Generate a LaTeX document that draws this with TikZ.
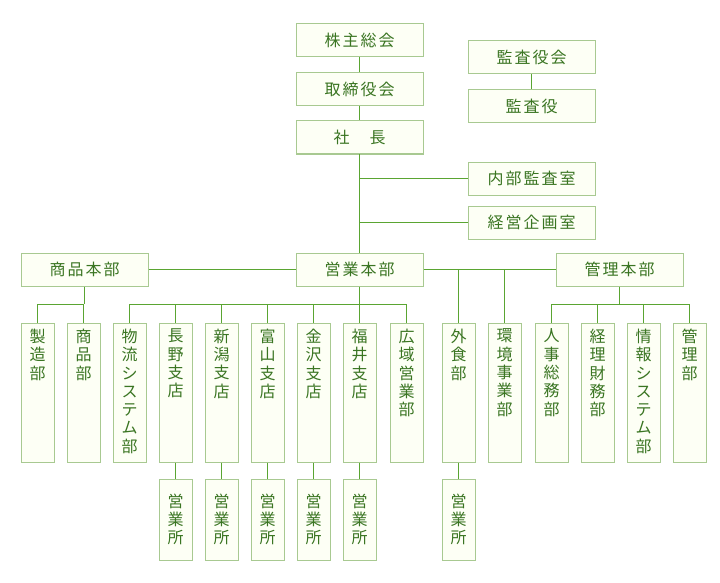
\documentclass[tikz,border=0pt]{standalone}
\usepackage{fontspec}
\setmainfont{Noto Sans CJK JP}
\definecolor{ln}{HTML}{5AA532}
\definecolor{bd}{HTML}{A8C991}
\definecolor{bf}{HTML}{FDFFF5}
\definecolor{tx}{HTML}{3A7522}
\makeatletter
\newcommand\sptext[1]{\@tfor\sp@ch:=#1\do{\sp@ch\kern2pt}\kern-2pt}
\makeatother
\newcommand\vcol[1]{\parbox[c][139pt][t]{33pt}{\centering\fontsize{16}{18.3}\selectfont\vspace*{6pt}#1\par}}
\newcommand\vshort[1]{\parbox[c][81pt][c]{33pt}{\centering\fontsize{16}{18.3}\selectfont #1\par}}
\tikzset{
  hbox/.style={draw=bd, fill=bf, line width=1pt, minimum width=127pt, minimum height=33pt, inner sep=0pt, text=tx, font=\fontsize{16}{18}\selectfont},
  vbox/.style={draw=bd, fill=bf, line width=1pt, minimum width=33pt, minimum height=139pt, inner sep=0pt, text=tx},
  sbox/.style={draw=bd, fill=bf, line width=1pt, minimum width=33pt, minimum height=81pt, inner sep=0pt, text=tx},
  conn/.style={draw=ln, line width=1pt}
}
\begin{document}
\begin{tikzpicture}[x=1pt,y=-1pt]
\fill[white] (0,0) rectangle (720,583);
\useasboundingbox (0,0) rectangle (720,583);
\coordinate (bus) at (0,304);
% top boxes
\node[hbox] (kabu) at (359.5,40.5) {\sptext{株主総会}};
\node[hbox] (tori) at (359.5,89.5) {\sptext{取締役会}};
\node[hbox] (sha) at (359.5,137.5) {\sptext{社　長}};
\node[hbox] (kansakai) at (531.5,57.5) {\sptext{監査役会}};
\node[hbox] (kansa) at (531.5,106.5) {\sptext{監査役}};
\node[hbox] (naibu) at (531.5,178.5) {\sptext{内部監査室}};
\node[hbox] (keiei) at (531.5,222.5) {\sptext{経営企画室}};
\node[hbox] (shohin) at (84.5,269.5) {\sptext{商品本部}};
\node[hbox] (eigyo) at (359.5,269.5) {\sptext{営業本部}};
\node[hbox] (kanri) at (619.5,269.5) {\sptext{管理本部}};
% columns
\node[vbox] (seizo) at (37.5,392.5) {\vcol{製\\造\\部}};
\node[vbox] (shohinbu) at (83.5,392.5) {\vcol{商\\品\\部}};
\node[vbox] (butsu) at (129.5,392.5) {\vcol{物\\流\\シ\\ス\\テ\\ム\\部}};
\node[vbox] (nagano) at (175.5,392.5) {\vcol{長\\野\\支\\店}};
\node[vbox] (niigata) at (221.5,392.5) {\vcol{新\\潟\\支\\店}};
\node[vbox] (toyama) at (267.5,392.5) {\vcol{富\\山\\支\\店}};
\node[vbox] (kanazawa) at (313.5,392.5) {\vcol{金\\沢\\支\\店}};
\node[vbox] (fukui) at (359.5,392.5) {\vcol{福\\井\\支\\店}};
\node[vbox] (kouiki) at (406.5,392.5) {\vcol{広\\域\\営\\業\\部}};
\node[vbox] (gaishoku) at (458.5,392.5) {\vcol{外\\食\\部}};
\node[vbox] (kankyo) at (504.5,392.5) {\vcol{環\\境\\事\\業\\部}};
\node[vbox] (jinji) at (551.5,392.5) {\vcol{人\\事\\総\\務\\部}};
\node[vbox] (keiri) at (597.5,392.5) {\vcol{経\\理\\財\\務\\部}};
\node[vbox] (joho) at (643.5,392.5) {\vcol{情\\報\\シ\\ス\\テ\\ム\\部}};
\node[vbox] (kanribu) at (689.5,392.5) {\vcol{管\\理\\部}};
% sales offices
\node[sbox] (e1) at (175.5,519.5) {\vshort{営\\業\\所}};
\node[sbox] (e2) at (221.5,519.5) {\vshort{営\\業\\所}};
\node[sbox] (e3) at (267.5,519.5) {\vshort{営\\業\\所}};
\node[sbox] (e4) at (313.5,519.5) {\vshort{営\\業\\所}};
\node[sbox] (e5) at (359.5,519.5) {\vshort{営\\業\\所}};
\node[sbox] (e6) at (458.5,519.5) {\vshort{営\\業\\所}};
% connectors
\draw[conn] (kabu) -- (tori);
\draw[conn] (tori) -- (sha);
\draw[conn] (sha) -- (eigyo);
\draw[conn] (kansakai) -- (kansa);
\draw[conn] (naibu.west) -- (naibu.west -| sha);
\draw[conn] (keiei.west) -- (keiei.west -| sha);
\draw[conn] (shohin) -- (eigyo);
\draw[conn] (eigyo) -- (kanri);
\draw[conn] (gaishoku.north) -- (gaishoku.north |- eigyo);
\draw[conn] (kankyo.north) -- (kankyo.north |- eigyo);
\draw[conn] (shohin.south) -- (shohin.south |- bus);
\draw[conn] (seizo.north) |- (bus -| shohinbu) -- (shohinbu.north);
\draw[conn] (eigyo.south) -- (fukui.north);
\draw[conn] (butsu.north) |- (bus -| kouiki) -- (kouiki.north);
\draw[conn] (nagano.north) -- (nagano.north |- bus);
\draw[conn] (niigata.north) -- (niigata.north |- bus);
\draw[conn] (toyama.north) -- (toyama.north |- bus);
\draw[conn] (kanazawa.north) -- (kanazawa.north |- bus);
\draw[conn] (kanri.south) -- (kanri.south |- bus);
\draw[conn] (jinji.north) |- (bus -| kanribu) -- (kanribu.north);
\draw[conn] (keiri.north) -- (keiri.north |- bus);
\draw[conn] (joho.north) -- (joho.north |- bus);
\draw[conn] (nagano) -- (e1);
\draw[conn] (niigata) -- (e2);
\draw[conn] (toyama) -- (e3);
\draw[conn] (kanazawa) -- (e4);
\draw[conn] (fukui) -- (e5);
\draw[conn] (gaishoku) -- (e6);
\end{tikzpicture}
\end{document}
